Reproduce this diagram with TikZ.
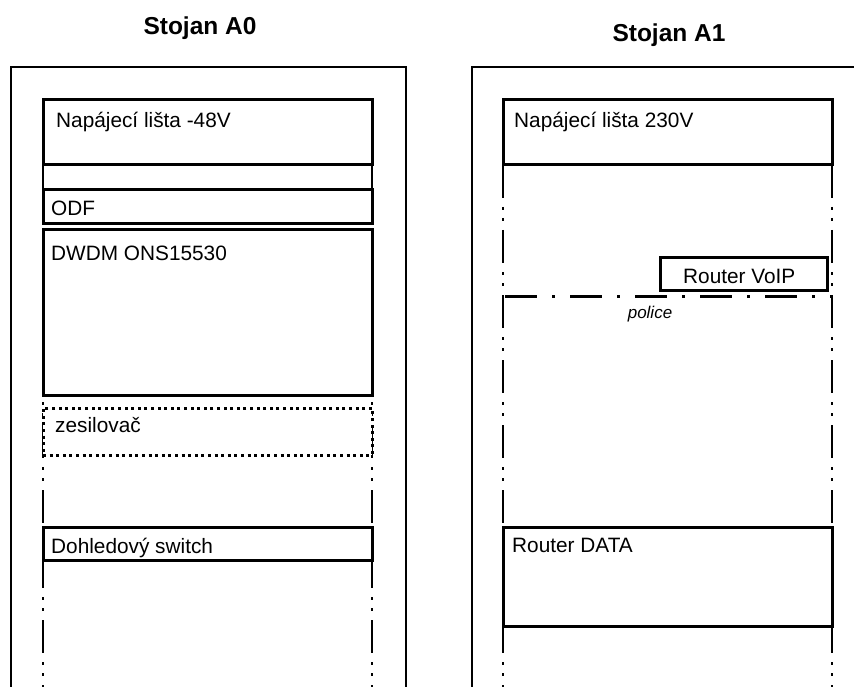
\documentclass[tikz,border=0pt]{standalone}
\usepackage{fontspec}
\setmainfont{Liberation Sans}
\tikzset{
  rackline/.style={line width=1.5pt},
  rail/.style={line width=1.5pt, dash pattern=on 33pt off 9pt on 3pt off 8pt on 3pt off 9pt},
  unitbox/.style={draw, line width=3pt, fill=white, rectangle, inner sep=0pt, outer sep=0pt, anchor=north west},
  dotbox/.style={unitbox, dash pattern=on 3pt off 3.6pt},
  lbl/.style={anchor=base west, inner sep=0pt, font=\fontsize{20.8}{24}\selectfont},
  ttl/.style={anchor=base, inner sep=0pt, font=\fontsize{24.5}{28}\selectfont\bfseries},
  shelf/.style={line width=3pt, dash pattern=on 32pt off 15pt on 3pt off 15pt},
  shelflbl/.style={anchor=base, inner sep=0pt, font=\fontsize{17}{20}\selectfont\itshape}
}
\begin{document}
\begin{tikzpicture}[x=1pt,y=-1pt]
\useasboundingbox (0,0) rectangle (854,687);
\fill[white] (0,0) rectangle (854,687);

% titles
\node[ttl] (tA0) at (200,35) {Stojan A0};
\node[ttl] (tA1) at (669,42) {Stojan A1};

% rack outlines
\draw[rackline] (11,688) -- (11,67) -- (406,67) -- (406,688);
\draw[rackline] (472,688) -- (472,67) -- (855,67);

% vertical rails
\coordinate (la) at (43,165);  \coordinate (lb) at (43,690);
\coordinate (ra) at (372,165); \coordinate (rb) at (372,690);
\coordinate (la1) at (503,165); \coordinate (lb1) at (503,690);
\coordinate (ra1) at (832,165); \coordinate (rb1) at (832,690);
\draw[rail] (la) -- (lb);
\draw[rail] (ra) -- (rb);
\draw[rail] (la1) -- (lb1);
\draw[rail] (ra1) -- (rb1);

% Stojan A0 units
\node[unitbox, minimum width=329pt, minimum height=65pt] (p48) at (43,100) {};
\node[lbl] (tp48) at (56,128) {Napájecí lišta -48V};
\node[unitbox, minimum width=329pt, minimum height=34pt] (odf) at (43,190) {};
\node[lbl] (todf) at (51,215) {ODF};
\node[unitbox, minimum width=329pt, minimum height=165pt] (dwdm) at (43,230) {};
\node[lbl] (tdwdm) at (51,260) {DWDM ONS15530};
\node[dotbox, minimum width=329pt, minimum height=47pt] (zes) at (43,408) {};
\node[lbl] (tzes) at (55,432) {zesilovač};
\node[unitbox, minimum width=329pt, minimum height=33pt] (sw) at (43,527) {};
\node[lbl] (tsw) at (51,553) {Dohledový switch};

% Stojan A1 units
\node[unitbox, minimum width=329pt, minimum height=65pt] (p230) at (503,100) {};
\node[lbl] (tp230) at (514,128) {Napájecí lišta 230V};
\node[unitbox, minimum width=167pt, minimum height=33pt] (voip) at (660,257) {};
\node[lbl] (tvoip) at (683,283) {Router VoIP};
\coordinate (pl) at (505,296);
\coordinate (pr) at (832,296);
\draw[shelf] (pl) -- (pr);
\node[shelflbl] (tpol) at (650,318) {police};
\node[unitbox, minimum width=329pt, minimum height=99pt] (data) at (503,527) {};
\node[lbl] (tdata) at (512,552) {Router DATA};
\end{tikzpicture}
\end{document}
